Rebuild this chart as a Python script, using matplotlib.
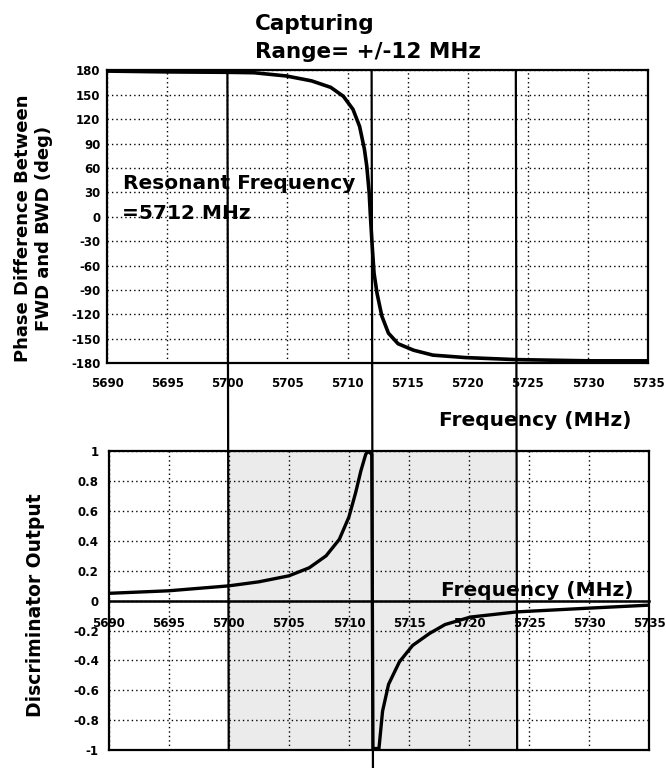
import numpy as np
import matplotlib.pyplot as plt
from matplotlib.patches import ConnectionPatch

# phase difference between FWD and BWD
freq_phase = [5690, 5695, 5700, 5702.2, 5704.9, 5707, 5708.6, 5709.65, 5710.45, 5711,
              5711.4, 5711.6, 5711.8, 5711.9, 5712.05, 5712.2, 5712.45, 5712.85,
              5713.4, 5714.2, 5715.5, 5717.1, 5719.8, 5724, 5730, 5735]
phase_deg = [179, 178, 177.5, 177, 173, 167, 159, 148, 132, 111,
             83, 62, 29, 1, -36, -69, -94, -122,
             -143, -156, -164, -170, -173, -175.5, -177, -177]

# discriminator output
freq_disc = [5690, 5695, 5700, 5702.5, 5705, 5706.7, 5708.1, 5709.2, 5710, 5710.55,
             5711, 5711.4, 5711.6, 5711.9, 5712, 5712.5, 5712.8, 5713.3, 5714.2,
             5715.3, 5716.7, 5718, 5720.1, 5724, 5730, 5735]
disc_out = [0.049, 0.066, 0.099, 0.126, 0.166, 0.22, 0.30, 0.41, 0.56, 0.72,
            0.87, 0.98, 1.0, 0.98, -0.99, -0.99, -0.74, -0.56, -0.41,
            -0.30, -0.22, -0.16, -0.11, -0.075, -0.05, -0.03]

freq_ticks = [5690, 5695, 5700, 5705, 5710, 5715, 5720, 5725, 5730, 5735]
phase_ticks = [180, 150, 120, 90, 60, 30, 0, -30, -60, -90, -120, -150, -180]
disc_ticks = [1, 0.8, 0.6, 0.4, 0.2, 0, -0.2, -0.4, -0.6, -0.8, -1]
disc_labels = ['1', '0.8', '0.6', '0.4', '0.2', '0', '-0.2', '-0.4', '-0.6', '-0.8', '-1']

f_res = 5712
capture = 12
band_lines = [f_res - capture, f_res, f_res + capture]

tick_font = dict(weight='bold', size=8.5)
label_font = dict(weight='bold')

fig = plt.figure(figsize=(6.66, 7.68), dpi=100)
ax1 = fig.add_axes([0.161, 0.527, 0.812, 0.3815])
ax2 = fig.add_axes([0.163, 0.0234, 0.812, 0.389])

grid_style = dict(color='k', linestyle=(0, (1, 2.2)), linewidth=1.0)

# --- top: phase
ax1.plot(freq_phase, phase_deg, color='k', lw=2.6, zorder=3)
ax1.set_xlim(5690, 5735)
ax1.set_ylim(-180, 180)
ax1.set_xticks(freq_ticks)
ax1.set_xticklabels([str(t) for t in freq_ticks], **tick_font)
ax1.set_yticks(phase_ticks)
ax1.set_yticklabels([str(t) for t in phase_ticks], **tick_font)
ax1.tick_params(length=0)
ax1.tick_params(axis='x', pad=10)
ax1.tick_params(axis='y', pad=5)
ax1.grid(True, **grid_style)
ax1.text(0.03, 0.614, 'Resonant Frequency', transform=ax1.transAxes,
         va='center', ha='left', fontsize=14.5, **label_font)
ax1.text(0.027, 0.512, '=5712 MHz', transform=ax1.transAxes,
         va='center', ha='left', fontsize=14.5, **label_font)
ax1.text(0.97, -0.195, 'Frequency (MHz)', transform=ax1.transAxes,
         va='center', ha='right', fontsize=14.5, **label_font)

# --- bottom: discriminator
ax2.axvspan(band_lines[0], band_lines[2], color='#ebebeb', zorder=0, lw=0)
ax2.set_axisbelow(True)
ax2.plot(freq_disc, disc_out, color='k', lw=2.4, zorder=3)
ax2.set_xlim(5690, 5735)
ax2.set_ylim(-1, 1)
ax2.set_xticks(freq_ticks)
ax2.set_xticklabels([])
ax2.set_yticks(disc_ticks)
ax2.set_yticklabels(disc_labels, **tick_font)
ax2.tick_params(length=0)
ax2.tick_params(axis='y', pad=7)
ax2.grid(True, **grid_style)
sec = ax2.secondary_xaxis(0.5)
sec.set_alignment('bottom')
sec.set_xticks(freq_ticks)
sec.set_xticklabels([str(t) for t in freq_ticks], **tick_font)
sec.tick_params(length=0, pad=12)
sec.spines['bottom'].set_linewidth(1.8)
ax2.text(0.97, 0.535, 'Frequency (MHz)', transform=ax2.transAxes,
         va='center', ha='right', fontsize=14.5, **label_font)

for ax in (ax1, ax2):
    for s in ax.spines.values():
        s.set_linewidth(1.6)

# capture range boundaries and resonance marker spanning both panels
for f in band_lines:
    y_end = -1.12 if f == f_res else -1
    con = ConnectionPatch(xyA=(f, 180), coordsA=ax1.transData,
                          xyB=(f, y_end), coordsB=ax2.transData,
                          color='k', lw=1.6)
    fig.add_artist(con)

fig.text(0.383, 0.982, 'Capturing\nRange= +/-12 MHz', ha='left', va='top',
         fontsize=15.5, linespacing=1.5, **label_font)
fig.text(0.05, 1 - 228 / 768, 'Phase Difference Between\nFWD and BWD (deg)',
         rotation=90, ha='center', va='center', fontsize=13, linespacing=1.25,
         **label_font)
fig.text(0.054, 1 - 605 / 768, 'Discriminator Output', rotation=90,
         ha='center', va='center', fontsize=13.5, **label_font)

fig.savefig('out.png', dpi=100)
